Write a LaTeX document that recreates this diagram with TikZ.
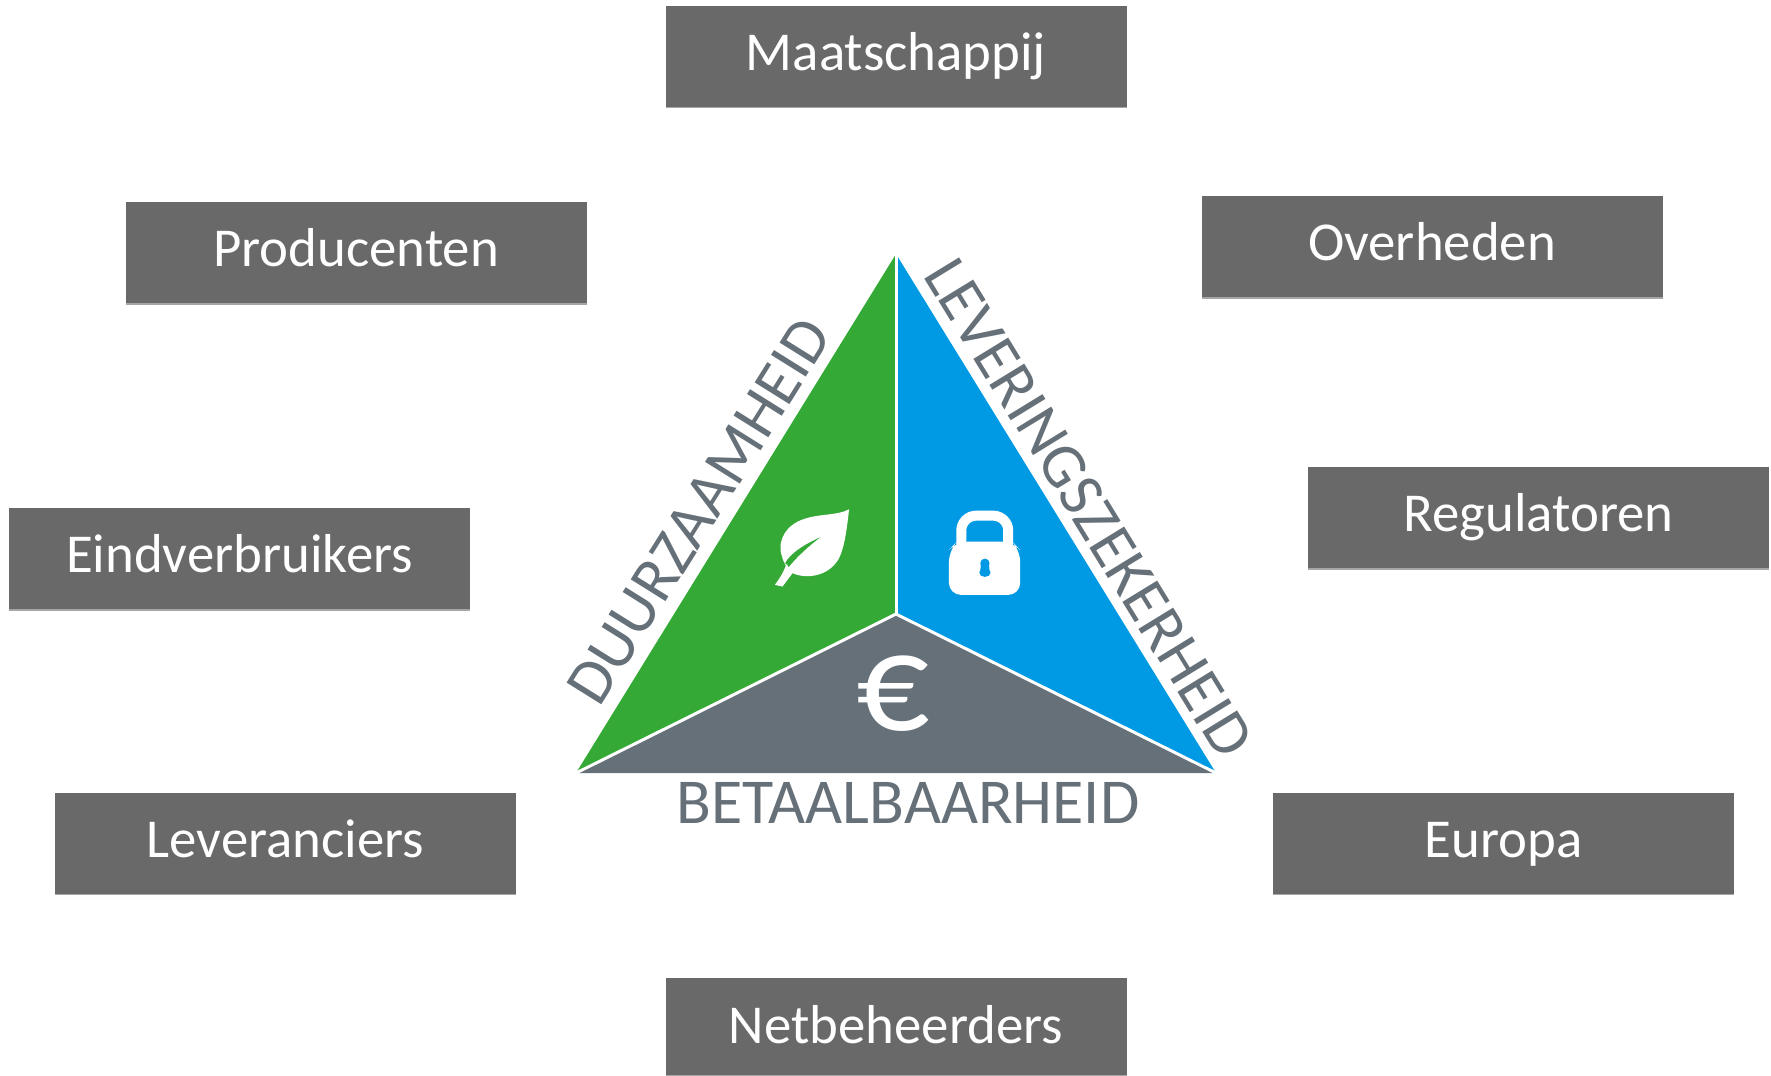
\documentclass[tikz,border=0pt]{standalone}
\usepackage{fontspec}
\setmainfont{Carlito}
\usetikzlibrary{shadows}
\definecolor{boxgrey}{HTML}{696969}
\definecolor{leafgreen}{HTML}{34A936}
\definecolor{lockblue}{HTML}{0099E3}
\definecolor{eurogrey}{HTML}{667079}

\begin{document}
\begin{tikzpicture}[x=0.1mm, y=-0.1mm,
	actor/.style={fill=boxgrey, text=white, inner sep=0pt, minimum width=46.1mm, minimum height=10.1mm,
		text height=1.0em, text depth=0.19em, font=\fontsize{15.6}{18}\selectfont,
		drop shadow={shadow xshift=0pt, shadow yshift=-0.5pt, fill=black!35, opacity=1}},
	aspect/.style={text=eurogrey, inner sep=0pt, font=\fontsize{18.2}{21}\selectfont},
	divider/.style={draw=white, line width=0.85pt},
	]

	\useasboundingbox (0,0) rectangle (1771,1075);

	\node[actor] (society) at (896,56) {Maatschappij};
	\node[actor] (producers) at (356,252.5) {Producenten};
	\node[actor] (governments) at (1432,246.5) {Overheden};
	\node[actor] (consumers) at (239.5,558.5) {Eindverbruikers};
	\node[actor] (regulators) at (1538.5,517.5) {Regulatoren};
	\node[actor] (suppliers) at (285.5,843) {Leveranciers};
	\node[actor] (europe) at (1503.5,843) {Europa};
	\node[actor, minimum height=9.7mm, text depth=0.05em] (operators) at (896,1026.5) {Netbeheerders};

	\node[coordinate] (top) at (896,254) {};
	\node[coordinate] (left) at (576,773) {};
	\node[coordinate] (right) at (1216,773) {};
	\node[coordinate] (mid) at (896,614) {};

	\fill[leafgreen] (top) -- (mid) -- (left) -- cycle;
	\fill[lockblue] (top) -- (right) -- (mid) -- cycle;
	\fill[eurogrey] (left) -- (mid) -- (right) -- cycle;
	\draw[divider] (top) -- (mid);
	\draw[divider] (left) -- (mid);
	\draw[divider] (right) -- (mid);

	\node[aspect, rotate=58] (sustain) at (699,511) {DUURZAAMHEID};
	\node[aspect, rotate=-58.5, font=\fontsize{18.1}{21}\selectfont] (supply) at (1089,508) {LEVERINGSZEKERHEID};
	\node[aspect] (afford) at (908,803) {BETAALBAARHEID};

	\node[text=white, inner sep=0pt, transform shape, xscale=1.03, font=\fontsize{40}{44}\selectfont] (euro) at (893,694) {€};

	\begin{scope}[shift={(640,480)}, x=0.0333mm, y=-0.0333mm]
		% leaf
		\fill[white] (628,88) .. controls (590,108) and (540,100) .. (490,118)
			.. controls (440,135) and (412,180) .. (425,225)
			.. controls (430,245) and (440,265) .. (455,278)
			.. controls (490,297) and (560,295) .. (595,240)
			.. controls (615,205) and (622,140) .. (628,88) -- cycle;
		\fill[leafgreen] (542,172) .. controls (500,190) and (450,220) .. (436,250)
			-- (446,262) .. controls (470,232) and (510,195) .. (542,172) -- cycle;
		\fill[white] (405,315) -- (428,320) -- (458,280) -- (440,252) .. controls (430,280) and (418,298) .. (405,315) -- cycle;
		% lock
		\fill[white, rounded corners=1.2mm] (928,345) -- (928,210) -- (952,185) -- (1118,185) -- (1142,210) -- (1142,345) -- cycle;
		\draw[white, line width=1mm, rounded corners=1.5mm] (965,200) -- (965,107) -- (1106,107) -- (1106,200);
		\fill[lockblue] (1036,250) circle (14);
		\fill[lockblue] (1024,250) -- (1048,250) -- (1050,275) -- (1022,275) -- cycle;
		\fill[lockblue] (1036,278) ellipse (17 and 13);
	\end{scope}

\end{tikzpicture}
\end{document}
